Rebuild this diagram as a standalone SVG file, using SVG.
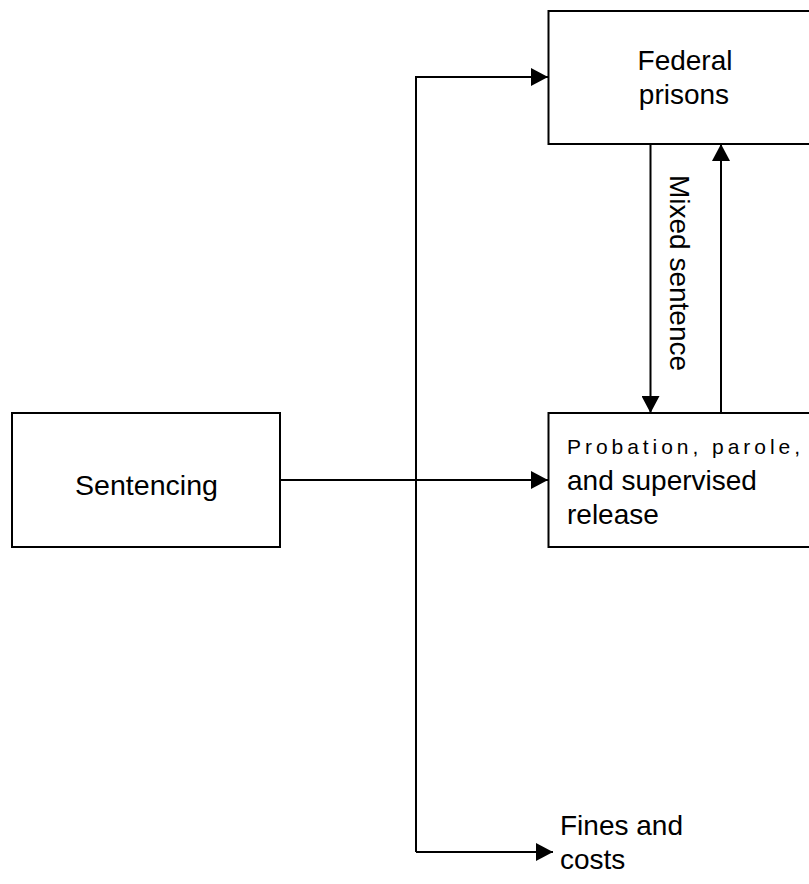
<svg xmlns="http://www.w3.org/2000/svg" width="809" height="884" viewBox="0 0 809 884">
<style>
.box{fill:#fff;stroke:#000;stroke-width:2}
.lbl{font-family:"Liberation Sans",Arial,sans-serif;font-size:28px;fill:#000}
.con{fill:none;stroke:#000;stroke-width:2}
</style>
<defs>
<marker id="ah" markerUnits="userSpaceOnUse" markerWidth="18" markerHeight="18" refX="17" refY="9" orient="auto">
<path d="M0,0 L17,9 L0,18 z" fill="#000"/>
</marker>
</defs>
<rect width="809" height="884" fill="#fff"/>
<g id="sentencing">
<rect class="box" x="12" y="413" width="268" height="134"/>
<text class="lbl" x="146.5" y="495" text-anchor="middle" textLength="143" lengthAdjust="spacingAndGlyphs">Sentencing</text>
</g>
<g id="federal-prisons">
<rect class="box" x="548.5" y="11" width="270" height="133"/>
<text class="lbl" x="685" y="70" text-anchor="middle">Federal</text>
<text class="lbl" x="684" y="104" text-anchor="middle">prisons</text>
</g>
<g id="probation">
<rect class="box" x="548.5" y="413" width="270" height="134"/>
<text class="lbl" x="567" y="454" style="font-size:21px" textLength="233" lengthAdjust="spacing">Probation, parole,</text>
<text class="lbl" x="567" y="490">and supervised</text>
<text class="lbl" x="567" y="524">release</text>
</g>
<g id="fines">
<text class="lbl" x="560" y="835">Fines and</text>
<text class="lbl" x="560" y="869">costs</text>
</g>
<g id="connectors">
<path class="con" d="M280,480 L548,480" marker-end="url(#ah)"/>
<path class="con" d="M416,852 L416,77 L548,77" marker-end="url(#ah)"/>
<path class="con" d="M416,852 L553,852" marker-end="url(#ah)"/>
<path class="con" d="M650.5,144 L650.5,413" marker-end="url(#ah)"/>
<path class="con" d="M721,413 L721,144" marker-end="url(#ah)"/>
<text class="lbl" transform="translate(670,273) rotate(90)" text-anchor="middle">Mixed sentence</text>
</g>
</svg>
